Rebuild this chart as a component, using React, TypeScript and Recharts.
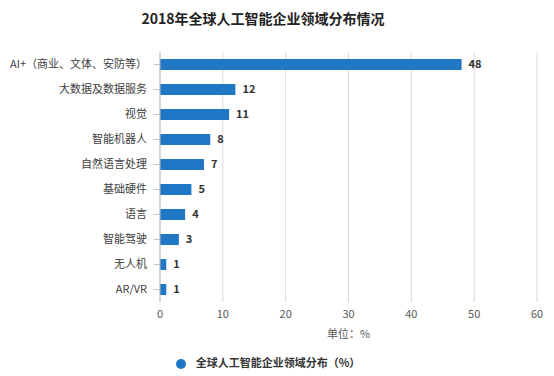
import React from 'react';
import { BarChart, Bar, XAxis, YAxis, CartesianGrid, Legend, LabelList } from 'recharts';

const categories = ['AI+（商业、文体、安防等）', '大数据及数据服务', '视觉', '智能机器人', '自然语言处理', '基础硬件', '语言', '智能驾驶', '无人机', 'AR/VR'];
const shares = [48, 12, 11, 8, 7, 5, 4, 3, 1, 1];
const xTicks = [0, 10, 20, 30, 40, 50, 60];

const SERIES_NAME = '全球人工智能企业领域分布（%）';
const BLUE = '#1f77c6';
const FONT = '"Noto Sans CJK SC", "Noto Sans", sans-serif';

const data = categories.map((name, i) => ({ name, value: shares[i] }));

const App: React.FC = () => {
  return (
    <div style={{ position: 'fixed', left: 0, top: 0, width: 554, height: 376, background: '#fff', fontFamily: FONT }}>
      <div
        style={{
          position: 'absolute',
          top: 8,
          left: 0,
          width: 526,
          textAlign: 'center',
          fontSize: 14,
          fontWeight: 'bold',
          color: '#222',
        }}
      >
        2018年全球人工智能企业领域分布情况
      </div>
      <BarChart
        width={554}
        height={376}
        data={data}
        layout="vertical"
        margin={{ top: 52, right: 17, bottom: 8, left: 0 }}
        barCategoryGap={7}
      >
        <CartesianGrid horizontal={false} stroke="#d9d9d9" />
        <XAxis
          type="number"
          domain={[0, 60]}
          ticks={xTicks}
          axisLine={false}
          tickLine={false}
          height={38}
          tick={{ fontSize: 11, fill: '#595959', fontFamily: FONT }}
          label={{ value: '单位：%', position: 'insideBottom', offset: 2, fontSize: 11, fill: '#595959', fontFamily: FONT }}
        />
        <YAxis
          type="category"
          dataKey="name"
          width={160}
          axisLine={{ stroke: '#bfbfbf' }}
          tickLine={{ stroke: '#bfbfbf' }}
          tickSize={6}
          tickMargin={7}
          tick={{ fontSize: 11, fill: '#404040', fontFamily: FONT }}
        />
        <Legend
          verticalAlign="bottom"
          align="center"
          iconType="circle"
          iconSize={10}
          height={28}
          wrapperStyle={{ left: 0, top: 354, width: 546, fontSize: 11, fontWeight: 'bold', fontFamily: FONT }}
          formatter={(v) => <span style={{ color: '#333', marginLeft: 6 }}>{v}</span>}
        />
        <Bar dataKey="value" name={SERIES_NAME} fill={BLUE} barSize={11} isAnimationActive={false}>
          <LabelList dataKey="value" position="right" offset={7} style={{ fontSize: 11, fontWeight: 'bold', fill: '#333', fontFamily: FONT }} />
        </Bar>
      </BarChart>
    </div>
  );
};

export default App;
